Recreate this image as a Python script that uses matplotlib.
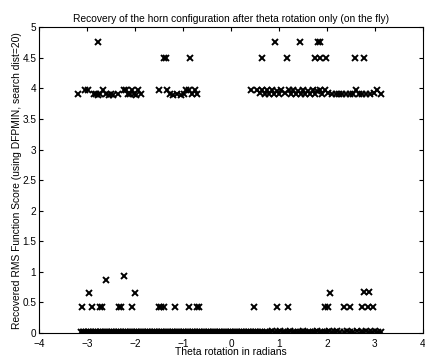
import matplotlib
matplotlib.use("Agg")
from matplotlib import pyplot as plt

# theta (rad) and recovered score
# runs that converged (score near zero)
low_x = [-3.13, -3.09, -3.06, -3.02, -2.99, -2.95, -2.91, -2.88, -2.84, -2.81,
         -2.77, -2.73, -2.70, -2.66, -2.62, -2.59, -2.55, -2.51, -2.47, -2.44,
         -2.40, -2.36, -2.33, -2.29, -2.25, -2.21, -2.18, -2.14, -2.10, -2.06,
         -2.03, -1.99, -1.95, -1.91, -1.88, -1.84, -1.80, -1.76, -1.73, -1.69,
         -1.65, -1.61, -1.58, -1.54, -1.50, -1.46, -1.43, -1.39, -1.35, -1.31,
         -1.28, -1.24, -1.20, -1.16, -1.12, -1.09, -1.05, -1.01, -0.97, -0.94,
         -0.90, -0.86, -0.82, -0.79, -0.75, -0.71, -0.67, -0.64, -0.60, -0.56,
         -0.52, -0.48, -0.45, -0.41, -0.37, -0.33, -0.30, -0.26, -0.22, -0.18,
         -0.15, -0.11, -0.07, -0.03, 0.01, 0.05, 0.08, 0.12, 0.16, 0.20,
         0.23, 0.27, 0.31, 0.35, 0.38, 0.42, 0.46, 0.50, 0.53, 0.57,
         0.61, 0.65, 0.70, 0.76, 0.81, 0.86, 0.92, 0.98, 1.03, 1.08,
         1.13, 1.19, 1.24, 1.29, 1.34, 1.40, 1.45, 1.50, 1.55, 1.60,
         1.65, 1.70, 1.75, 1.80, 1.85, 1.90, 1.95, 2.00, 2.05, 2.10,
         2.16, 2.22, 2.28, 2.35, 2.42, 2.48, 2.55, 2.62, 2.70, 2.76,
         2.82, 2.88, 2.94, 3.00, 3.06, 3.12]
low_y = [0.01, 0.02, 0.01, 0.01, 0.02, 0.01, 0.01, 0.01, 0.02, 0.01,
         0.01, 0.01, 0.02, 0.01, 0.01, 0.01, 0.01, 0.02, 0.01, 0.01,
         0.01, 0.02, 0.01, 0.01, 0.01, 0.01, 0.02, 0.01, 0.01, 0.01,
         0.02, 0.01, 0.01, 0.01, 0.01, 0.02, 0.01, 0.01, 0.01, 0.01,
         0.02, 0.01, 0.01, 0.01, 0.01, 0.01, 0.02, 0.01, 0.01, 0.01,
         0.01, 0.02, 0.01, 0.01, 0.01, 0.01, 0.01, 0.02, 0.01, 0.01,
         0.01, 0.01, 0.02, 0.01, 0.01, 0.01, 0.01, 0.01, 0.02, 0.01,
         0.01, 0.01, 0.01, 0.02, 0.01, 0.01, 0.01, 0.01, 0.01, 0.02,
         0.01, 0.01, 0.01, 0.01, 0.01, 0.02, 0.01, 0.01, 0.01, 0.01,
         0.02, 0.01, 0.01, 0.01, 0.01, 0.01, 0.02, 0.01, 0.01, 0.02,
         0.01, 0.02, 0.01, 0.02, 0.01, 0.03, 0.02, 0.01, 0.03, 0.02,
         0.01, 0.02, 0.03, 0.01, 0.02, 0.01, 0.02, 0.03, 0.01, 0.02,
         0.01, 0.02, 0.01, 0.03, 0.02, 0.01, 0.02, 0.01, 0.03, 0.02,
         0.01, 0.03, 0.02, 0.01, 0.03, 0.02, 0.01, 0.03, 0.02, 0.01,
         0.03, 0.02, 0.01, 0.03, 0.02, 0.01]

# local minima around 0.4 - 0.9
mid_x = [-3.10, -2.90, -2.73, -2.69, -2.34, -2.29, -2.07, -1.51, -1.45, -1.39,
         -1.16, -0.88, -0.70, -0.66, 0.48, 0.96, 1.18, 1.95, 2.03, 2.36,
         2.49, 2.73, 2.85, 2.96,
         -2.96, -2.61, -2.22, -2.01, 2.07, 2.77, 2.88]
mid_y = [0.42, 0.42, 0.42, 0.42, 0.42, 0.42, 0.42, 0.42, 0.42, 0.42,
         0.42, 0.42, 0.42, 0.42, 0.42, 0.42, 0.42, 0.42, 0.42, 0.42,
         0.42, 0.42, 0.42, 0.42,
         0.65, 0.87, 0.93, 0.65, 0.65, 0.67, 0.67]

# runs stuck near 3.9 - 4.0
high_x = [-3.18, -3.05, -2.98, -2.86, -2.82, -2.78, -2.74, -2.67, -2.60, -2.55,
          -2.50, -2.46, -2.35, -2.24, -2.18, -2.14, -2.10, -2.06, -2.02, -1.98,
          -1.93, -1.88, -1.51, -1.33, -1.27, -1.20, -1.12, -1.05, -0.98, -0.93,
          -0.88, -0.82, -0.76, -0.70,
          0.42, 0.55, 0.60, 0.65, 0.70, 0.75, 0.80, 0.85, 0.90, 0.95,
          1.00, 1.05, 1.12, 1.20, 1.26, 1.30, 1.35, 1.40, 1.45, 1.50,
          1.55, 1.60, 1.65, 1.70, 1.75, 1.80, 1.85, 1.90, 1.95, 2.02,
          2.10, 2.18, 2.25, 2.32, 2.40, 2.48, 2.55, 2.60, 2.66, 2.74,
          2.82, 2.90, 2.98, 3.04, 3.12]
high_y = [3.90, 3.98, 3.97, 3.90, 3.91, 3.89, 3.90, 3.98, 3.90, 3.89,
          3.90, 3.89, 3.90, 3.98, 3.97, 3.90, 3.91, 3.98, 3.90, 3.89,
          3.98, 3.90, 3.98, 3.98, 3.90, 3.89, 3.90, 3.89, 3.90, 3.98,
          3.97, 3.90, 3.98, 3.90,
          3.98, 3.97, 3.92, 3.98, 3.90, 3.98, 3.90, 3.98, 3.90, 3.96,
          3.90, 3.98, 3.92, 3.98, 3.90, 3.98, 3.90, 3.96, 3.90, 3.98,
          3.90, 3.96, 3.90, 3.98, 3.90, 3.96, 3.98, 3.90, 3.98, 3.92,
          3.90, 3.90, 3.90, 3.90, 3.90, 3.90, 3.90, 3.98, 3.90, 3.90,
          3.90, 3.90, 3.92, 3.98, 3.90]

# worst runs
top_x = [-2.77, 0.91, 1.43, 1.82, 1.86,
         -1.39, -1.35, -0.85, 0.64, 1.16, 1.76, 1.86, 1.98, 2.59, 2.77]
top_y = [4.76, 4.76, 4.76, 4.76, 4.76,
         4.50, 4.50, 4.50, 4.50, 4.50, 4.50, 4.50, 4.50, 4.50, 4.50]

plt.rcParams["font.family"] = ["Liberation Sans", "DejaVu Sans"]

fig = plt.figure(figsize=(4.25, 3.62), dpi=100)
ax = fig.add_axes([0.092, 0.08, 0.903, 0.845])

for xs, ys in [(low_x, low_y), (mid_x, mid_y), (high_x, high_y), (top_x, top_y)]:
    ax.plot(xs, ys, "x", color="black", markersize=4.5, markeredgewidth=1.4)

ax.set_xlim(-4, 4)
ax.set_ylim(0, 5)
ax.set_xticks(range(-4, 5))
ax.set_yticks([0, 0.5, 1, 1.5, 2, 2.5, 3, 3.5, 4, 4.5, 5])
ax.set_yticklabels(["0", "0.5", "1", "1.5", "2", "2.5", "3", "3.5", "4", "4.5", "5"])
ax.tick_params(direction="in", top=True, right=True, labelsize=7.2, length=3,
               width=0.8)
ax.tick_params(axis="x", pad=4)
ax.tick_params(axis="y", pad=2)
for s in ax.spines.values():
    s.set_linewidth(0.8)

ax.set_title("Recovery of the horn configuration after theta rotation only (on the fly)",
             fontsize=7.4, pad=4)
ax.set_xlabel("Theta rotation in radians", fontsize=7.5, labelpad=-1)
ax.set_ylabel("Recovered RMS Function Score (using DFPMIN, search dist=20)",
              fontsize=7.4, labelpad=0)

fig.savefig("out.png", dpi=100)
